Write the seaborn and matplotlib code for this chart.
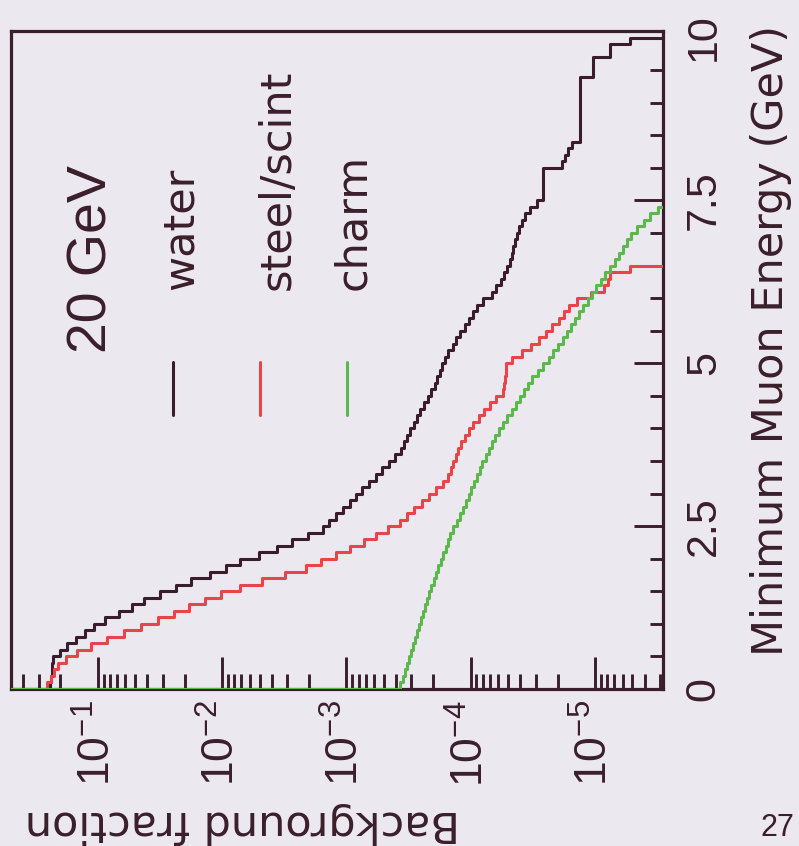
import numpy as np
import pandas as pd
import matplotlib
matplotlib.use("Agg")
import matplotlib.pyplot as plt
import seaborn as sns

# Cumulative background fraction above a minimum muon energy (0.1 GeV bins, 0-10 GeV)
BIN_WIDTH = 0.1
water = [0.243, 0.239, 0.2345, 0.2324, 0.2302, 0.2008, 0.1759, 0.1503, 0.1272, 0.1076,
         0.0878, 0.0677, 0.0532, 0.0426, 0.0317, 0.0236, 0.0178, 0.01255, 0.00933, 0.00720,
         0.00506, 0.00362, 0.00274, 0.00204, 0.00155, 0.00138, 0.00122, 0.00107, 9.37e-4, 8.39e-4,
         7.50e-4, 6.59e-4, 5.79e-4, 5.18e-4, 4.55e-4, 4.07e-4, 3.64e-4, 3.44e-4, 3.26e-4, 3.08e-4,
         2.86e-4, 2.71e-4, 2.56e-4, 2.38e-4, 2.21e-4, 2.09e-4, 1.94e-4, 1.87e-4, 1.77e-4, 1.70e-4,
         1.61e-4, 1.52e-4, 1.39e-4, 1.31e-4, 1.22e-4, 1.11e-4, 1.03e-4, 9.59e-5, 8.91e-5, 7.97e-5,
         6.74e-5, 6.26e-5, 5.71e-5, 5.40e-5, 5.11e-5, 4.83e-5, 4.66e-5, 4.57e-5, 4.40e-5, 4.24e-5,
         4.09e-5, 3.87e-5, 3.66e-5, 3.33e-5, 2.93e-5, 2.62e-5, 2.62e-5, 2.62e-5, 2.62e-5, 2.62e-5,
         1.84e-5, 1.74e-5, 1.65e-5, 1.53e-5, 1.32e-5, 1.32e-5, 1.32e-5, 1.32e-5, 1.32e-5, 1.32e-5,
         1.32e-5, 1.32e-5, 1.32e-5, 1.32e-5, 1.04e-5, 1.04e-5, 1.04e-5, 7.57e-6, 7.57e-6, 5.23e-6]
steel_scint = [0.2573, 0.2402, 0.2239, 0.2099, 0.1816, 0.1462, 0.1138, 0.0846, 0.0617, 0.0454,
               0.0331, 0.02445, 0.01838, 0.01376, 0.01014, 0.00722, 0.00480, 0.00313, 0.00212, 0.00160,
               0.00121, 9.37e-4, 7.23e-4, 5.74e-4, 4.63e-4, 3.71e-4, 3.26e-4, 2.84e-4, 2.49e-4, 2.18e-4,
               1.90e-4, 1.67e-4, 1.52e-4, 1.45e-4, 1.38e-4, 1.32e-4, 1.26e-4, 1.19e-4, 1.11e-4, 1.03e-4,
               9.59e-5, 8.66e-5, 7.82e-5, 7.06e-5, 6.23e-5, 5.50e-5, 5.40e-5, 5.30e-5, 5.25e-5, 5.16e-5,
               4.69e-5, 3.87e-5, 3.30e-5, 2.84e-5, 2.48e-5, 2.20e-5, 1.95e-5, 1.78e-5, 1.63e-5, 1.41e-5,
               1.08e-5, 8.46e-6, 7.86e-6, 7.64e-6, 5.23e-6] + [0.0] * 35
charm = [3.68e-4, 3.54e-4, 3.41e-4, 3.28e-4, 3.16e-4, 3.04e-4, 2.93e-4, 2.82e-4, 2.72e-4, 2.61e-4,
         2.51e-4, 2.42e-4, 2.33e-4, 2.24e-4, 2.16e-4, 2.07e-4, 1.99e-4, 1.90e-4, 1.82e-4, 1.74e-4,
         1.67e-4, 1.59e-4, 1.52e-4, 1.46e-4, 1.38e-4, 1.30e-4, 1.23e-4, 1.16e-4, 1.10e-4, 1.04e-4,
         9.93e-5, 9.43e-5, 8.95e-5, 8.50e-5, 8.06e-5, 7.59e-5, 7.15e-5, 6.73e-5, 6.33e-5, 5.94e-5,
         5.49e-5, 5.08e-5, 4.69e-5, 4.34e-5, 4.03e-5, 3.74e-5, 3.47e-5, 3.20e-5, 2.89e-5, 2.61e-5,
         2.36e-5, 2.17e-5, 1.99e-5, 1.82e-5, 1.69e-5, 1.56e-5, 1.45e-5, 1.34e-5, 1.24e-5, 1.15e-5,
         1.06e-5, 9.78e-6, 8.98e-6, 8.26e-6, 7.57e-6, 6.93e-6, 6.38e-6, 5.95e-6, 5.56e-6, 5.16e-6,
         4.58e-6, 4.07e-6, 3.59e-6, 3.14e-6] + [0.0] * 26

series_names = ["water", "steel/scint", "charm"]
series_values = [water, steel_scint, charm]
energy_ticks = [0, 2.5, 5, 7.5, 10]
energy_tick_labels = ["0", "2.5", "5", "7.5", "10"]
fraction_ticks = [1e-1, 1e-2, 1e-3, 1e-4, 1e-5]
fraction_tick_labels = [r"$10^{-1}$", r"$10^{-2}$", r"$10^{-3}$", r"$10^{-4}$", r"$10^{-5}$"]
FRAC_MAX, FRAC_MIN = 0.5, 2.84e-6
E_MAX = 10.1

BG = "#ebe8ef"
INK = "#3a1f2b"
palette = {"water": "#3b1c2a", "steel/scint": "#e8454a", "charm": "#5db84c"}

sns.set_theme(style="ticks")
plt.rcParams["font.family"] = ["DejaVu Sans"]
plt.rcParams["mathtext.fontset"] = "custom"
plt.rcParams["mathtext.rm"] = "Liberation Sans"
plt.rcParams["mathtext.default"] = "rm"

# Long-form table: each histogram outline starts at the upper fraction limit on E = 0
rows = []
for name, vals in zip(series_names, series_values):
    edges = np.arange(len(vals) + 1) * BIN_WIDTH
    rows.append((name, FRAC_MAX, 0.0))
    for e, v in zip(edges, list(vals) + [0.0]):
        rows.append((name, v, round(e, 2)))
df = pd.DataFrame(rows, columns=["series", "fraction", "energy"])

fig = plt.figure(figsize=(7.99, 8.46), dpi=100, facecolor=BG)
ax = fig.add_axes([11 / 799, 1 - 689 / 846, 652 / 799, 658 / 846])
ax.set_facecolor(BG)

sns.lineplot(data=df, x="fraction", y="energy", hue="series", hue_order=series_names,
             palette=palette, sort=False, estimator=None, drawstyle="steps-pre",
             linewidth=2.2, legend=False, ax=ax, zorder=3)

ax.set_xscale("log")
ax.set_xlim(FRAC_MAX, FRAC_MIN)
ax.set_ylim(0, E_MAX)
ax.set_xlabel("")
ax.set_ylabel("")

for sp in ax.spines.values():
    sp.set_visible(True)
    sp.set_linewidth(2.3)
    sp.set_color(INK)

# Energy axis: ticks on the right, pointing inward
ax.yaxis.tick_right()
ax.set_yticks(energy_ticks)
ax.set_yticklabels(energy_tick_labels)
ax.set_yticks(np.arange(0, 10.01, 0.5), minor=True)
ax.tick_params(axis="y", which="major", direction="in", length=21, width=2.1, color=INK,
               pad=15, labelsize=31, labelcolor=INK, right=True, left=False)
ax.tick_params(axis="y", which="minor", direction="in", length=9.5, width=2.1, color=INK,
               right=True, left=False)
for lab in ax.get_yticklabels():
    lab.set_rotation(90)
    lab.set_va("center")
    lab.set_ha("left")
    lab.set_family("Liberation Sans")

# Fraction axis: log ticks along the bottom, pointing inward
ax.set_xticks(fraction_ticks)
ax.set_xticklabels(fraction_tick_labels)
ax.xaxis.set_minor_locator(matplotlib.ticker.LogLocator(base=10, subs=np.arange(2, 10), numticks=20))
ax.xaxis.set_minor_formatter(matplotlib.ticker.NullFormatter())
ax.tick_params(axis="x", which="major", direction="in", length=23, width=2.1, color=INK,
               pad=8, labelsize=32, labelcolor=INK, top=False, bottom=True)
ax.tick_params(axis="x", which="minor", direction="in", length=11, width=2.1, color=INK,
               top=False, bottom=True)
for lab in ax.get_xticklabels():
    lab.set_rotation(90)
    lab.set_rotation_mode("anchor")
    lab.set_ha("right")
    lab.set_va("center")

# Key: rotated labels with short line samples below them
ax.text(0.147, 0.511, "20 GeV", transform=ax.transAxes, rotation=90, rotation_mode="anchor",
        ha="left", va="baseline", fontsize=40, color=INK, family="Liberation Sans")
key_x = {"water": (0.279, 0.2485), "steel/scint": (0.428, 0.382), "charm": (0.543, 0.515)}
for name in series_names:
    tx, lx = key_x[name]
    ax.text(tx, 0.606, name, transform=ax.transAxes, rotation=90, rotation_mode="anchor",
            ha="left", va="baseline", fontsize=31, color=INK)
    ax.plot([lx, lx], [0.416, 0.497], transform=ax.transAxes, color=palette[name], lw=2.2)

# Axis titles
fig.text(783 / 799, 1 - 25 / 846, "Minimum Muon Energy (GeV)", rotation=90,
         rotation_mode="anchor", ha="right", va="baseline", fontsize=31, color=INK)
fig.text(460 / 799, 1 - 811 / 846, "Background fraction", rotation=180,
         rotation_mode="anchor", ha="left", va="baseline", fontsize=31, color=INK)
fig.text(760 / 799, 1 - 836 / 846, "27", ha="left", va="baseline", fontsize=22, color=INK,
         family="Liberation Sans")

fig.savefig("out.png", dpi=100, facecolor=BG)
